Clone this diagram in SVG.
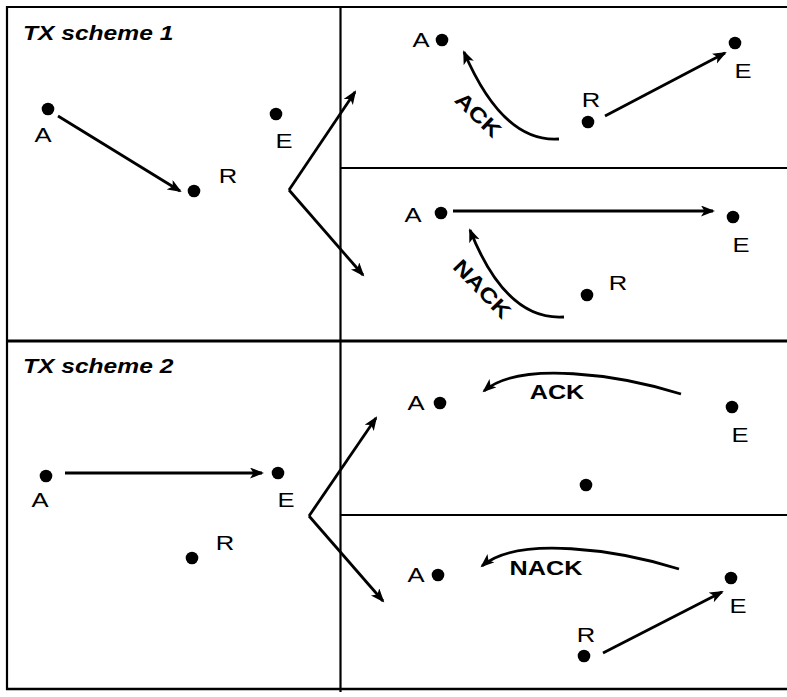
<svg xmlns="http://www.w3.org/2000/svg" width="787" height="697" viewBox="0 0 787 697">
<defs>
<style>
.frame{stroke:#000;stroke-width:2.2;fill:none}
.dot{fill:#000}
.lbl{font-family:"Liberation Sans",Arial,sans-serif;font-size:21px;fill:#000;text-anchor:middle}
.ttl{font-family:"Liberation Sans",Arial,sans-serif;font-size:20px;font-weight:bold;font-style:italic;fill:#000}
.blbl{font-family:"Liberation Sans",Arial,sans-serif;font-size:21px;font-weight:bold;fill:#000;text-anchor:middle}
.arr{stroke:#000;stroke-width:2.8;fill:none;marker-end:url(#ah)}
</style>
<marker id="ah" markerUnits="userSpaceOnUse" markerWidth="15" markerHeight="12" viewBox="0 0 15 12" refX="12" refY="5.5" orient="auto">
<path d="M0,0 L14,5.5 L0,11 L3.5,5.5 z" fill="#000"/>
</marker>
</defs>
<rect width="787" height="697" fill="#fff"/>
<g id="frame">
<line class="frame" x1="6" y1="7" x2="787" y2="7"/>
<line class="frame" x1="7" y1="6" x2="7" y2="690"/>
<line class="frame" x1="340.5" y1="6" x2="340.5" y2="692"/>
<line class="frame" x1="6" y1="341" x2="787" y2="341" style="stroke-width:3"/>
<line class="frame" x1="340" y1="168" x2="787" y2="168"/>
<line class="frame" x1="340" y1="515" x2="787" y2="515"/>
<line class="frame" x1="6" y1="689" x2="787" y2="689" style="stroke-width:2.5"/>
</g>
<g id="titles">
<text class="ttl" transform="translate(23 40) scale(1.23 1)">TX scheme 1</text>
<text class="ttl" transform="translate(23 373) scale(1.23 1)">TX scheme 2</text>
</g>
<g id="s1-main">
<g id="s1-A"><circle class="dot" cx="48" cy="109" r="6.3"/><text class="lbl" transform="translate(43 142) scale(1.22 1)">A</text></g>
<g id="s1-R"><circle class="dot" cx="194" cy="191" r="6.3"/><text class="lbl" transform="translate(228 183) scale(1.22 1)">R</text></g>
<g id="s1-E"><circle class="dot" cx="276" cy="114" r="6.3"/><text class="lbl" transform="translate(284 148) scale(1.22 1)">E</text></g>
</g>
<g id="s1-ack">
<g id="s1a-A"><circle class="dot" cx="442" cy="40" r="6.3"/><text class="lbl" transform="translate(421 47) scale(1.22 1)">A</text></g>
<g id="s1a-R"><circle class="dot" cx="588" cy="122" r="6.3"/><text class="lbl" transform="translate(591 107) scale(1.22 1)">R</text></g>
<g id="s1a-E"><circle class="dot" cx="735" cy="43" r="6.3"/><text class="lbl" transform="translate(743 78) scale(1.22 1)">E</text></g>
</g>
<g id="s1-nack">
<g id="s1n-A"><circle class="dot" cx="441" cy="213" r="6.3"/><text class="lbl" transform="translate(413 222) scale(1.22 1)">A</text></g>
<g id="s1n-R"><circle class="dot" cx="587" cy="295" r="6.3"/><text class="lbl" transform="translate(618 290) scale(1.22 1)">R</text></g>
<g id="s1n-E"><circle class="dot" cx="733" cy="217" r="6.3"/><text class="lbl" transform="translate(741 252) scale(1.22 1)">E</text></g>
</g>
<g id="s2-main">
<g id="s2-A"><circle class="dot" cx="46" cy="476" r="6.3"/><text class="lbl" transform="translate(40 507) scale(1.22 1)">A</text></g>
<g id="s2-E"><circle class="dot" cx="278" cy="473" r="6.3"/><text class="lbl" transform="translate(286 507) scale(1.22 1)">E</text></g>
<g id="s2-R"><circle class="dot" cx="192" cy="558" r="6.3"/><text class="lbl" transform="translate(225 550) scale(1.22 1)">R</text></g>
</g>
<g id="s2-ack">
<g id="s2a-A"><circle class="dot" cx="440" cy="403" r="6.3"/><text class="lbl" transform="translate(416 410) scale(1.22 1)">A</text></g>
<g id="s2a-E"><circle class="dot" cx="732" cy="407" r="6.3"/><text class="lbl" transform="translate(740 442) scale(1.22 1)">E</text></g>
<g id="s2a-R"><circle class="dot" cx="586" cy="485" r="6.3"/></g>
</g>
<g id="s2-nack">
<g id="s2n-A"><circle class="dot" cx="438" cy="575" r="6.3"/><text class="lbl" transform="translate(416 582) scale(1.22 1)">A</text></g>
<g id="s2n-E"><circle class="dot" cx="731" cy="578" r="6.3"/><text class="lbl" transform="translate(738 613) scale(1.22 1)">E</text></g>
<g id="s2n-R"><circle class="dot" cx="584" cy="656" r="6.3"/><text class="lbl" transform="translate(586 642) scale(1.22 1)">R</text></g>
</g>
<g id="connectors">
<path class="arr" d="M58,116 L180,191"/>
<path class="arr" d="M289,190 L355,92"/>
<path class="arr" d="M289,190 L363,275"/>
<path class="arr" d="M605,116 L725,53"/>
<path class="arr" d="M559,139 Q503,143 464,52"/>
<path class="arr" d="M453,211 L713,211"/>
<path class="arr" d="M564,317 Q506,321 470,230"/>
<path class="arr" d="M65,473 L262,473"/>
<path class="arr" d="M309,516 L376,418"/>
<path class="arr" d="M309,516 L383,601"/>
<path class="arr" d="M681,394 C620,375 520,360 484,391"/>
<path class="arr" d="M679,569 C618,550 518,535 482,566"/>
<path class="arr" d="M603,653 L722,592"/>
<text class="blbl" transform="translate(478 115) rotate(44) scale(1.2 1)" y="7">ACK</text>
<text class="blbl" transform="translate(482 289) rotate(46) scale(1.2 1)" y="7">NACK</text>
<text class="blbl" transform="translate(557 399) scale(1.2 1)">ACK</text>
<text class="blbl" transform="translate(546 575) scale(1.2 1)">NACK</text>
</g>
</svg>
